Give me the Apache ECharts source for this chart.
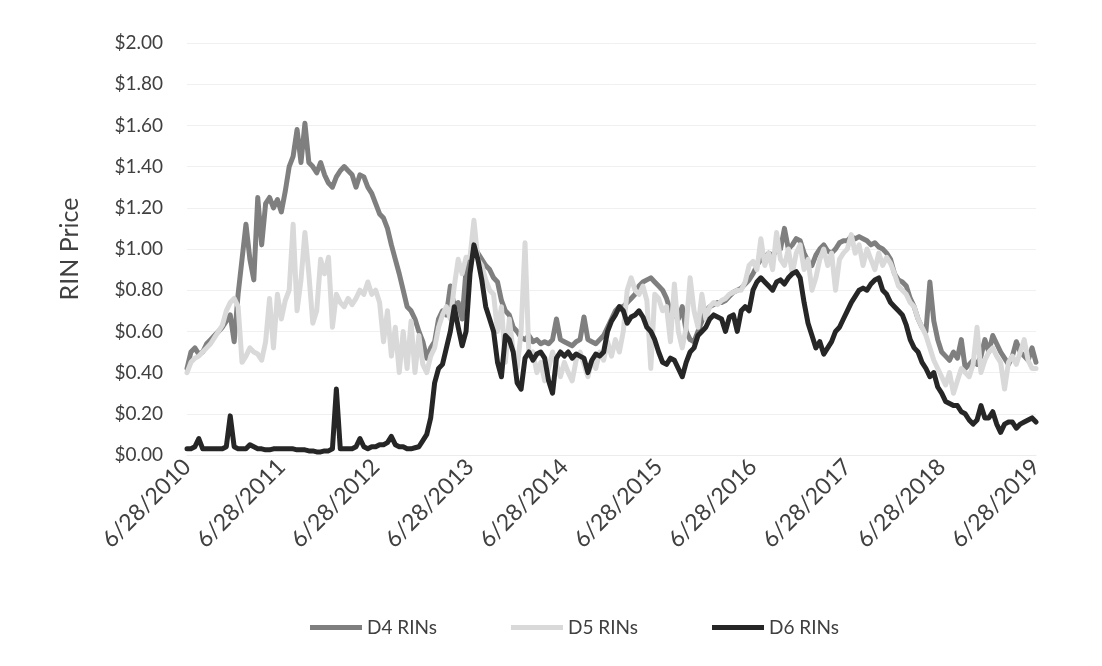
<!DOCTYPE html>
<html>
<head>
<meta charset="utf-8">
<title>RIN Price</title>
<script src="https://cdn.jsdelivr.net/npm/echarts@6/dist/echarts.min.js"></script>
<style>
html, body {
  margin: 0;
  padding: 0;
  background: #fff;
}
#chart {
  width: 1102px;
  height: 666px;
}
</style>
</head>
<body>
<div id="chart"></div>
<script>
// half-monthly readings, first point 6/28/2010, one row per year from 6/28
const d4 = [
  0.42, 0.50, 0.52, 0.49, 0.50, 0.54, 0.56, 0.58, 0.60, 0.62, 0.65, 0.68, 0.55, 0.78, 0.95, 1.12, 0.95, 0.85, 1.25, 1.02, 1.22, 1.25, 1.20, 1.24,
  1.18, 1.28, 1.40, 1.45, 1.58, 1.42, 1.61, 1.42, 1.40, 1.37, 1.42, 1.36, 1.32, 1.30, 1.35, 1.38, 1.40, 1.38, 1.36, 1.30, 1.36, 1.35, 1.30, 1.27,
  1.22, 1.17, 1.15, 1.10, 1.02, 0.95, 0.88, 0.80, 0.72, 0.70, 0.66, 0.60, 0.55, 0.47, 0.52, 0.55, 0.66, 0.70, 0.68, 0.82, 0.72, 0.74, 0.66, 0.90,
  0.95, 1.02, 0.98, 0.95, 0.92, 0.90, 0.86, 0.84, 0.75, 0.70, 0.68, 0.62, 0.60, 0.57, 0.56, 0.58, 0.55, 0.56, 0.54, 0.55, 0.54, 0.56, 0.66, 0.56,
  0.55, 0.54, 0.53, 0.55, 0.56, 0.67, 0.56, 0.55, 0.54, 0.56, 0.58, 0.62, 0.66, 0.70, 0.72, 0.72, 0.74, 0.76, 0.78, 0.82, 0.84, 0.85, 0.86, 0.84,
  0.82, 0.80, 0.76, 0.70, 0.68, 0.66, 0.72, 0.60, 0.56, 0.55, 0.60, 0.65, 0.70, 0.72, 0.73, 0.74, 0.74, 0.75, 0.77, 0.79, 0.80, 0.81, 0.83, 0.85,
  0.88, 0.92, 0.95, 0.96, 0.98, 0.97, 0.99, 1.00, 1.10, 1.00, 1.02, 1.05, 1.04, 0.98, 0.94, 0.92, 0.97, 1.00, 1.02, 0.99, 0.98, 1.00, 1.03, 1.04,
  1.04, 1.06, 1.05, 1.06, 1.05, 1.04, 1.02, 1.03, 1.01, 1.00, 0.98, 0.95, 0.88, 0.85, 0.84, 0.82, 0.76, 0.72, 0.66, 0.62, 0.60, 0.84, 0.65, 0.56,
  0.50, 0.48, 0.46, 0.50, 0.47, 0.56, 0.42, 0.44, 0.46, 0.44, 0.48, 0.56, 0.50, 0.58, 0.54, 0.50, 0.47, 0.44, 0.48, 0.55, 0.50, 0.48, 0.46, 0.52,
  0.45
]

const d5 = [
  0.40, 0.45, 0.47, 0.48, 0.50, 0.52, 0.54, 0.57, 0.60, 0.63, 0.70, 0.74, 0.76, 0.72, 0.45, 0.48, 0.52, 0.50, 0.49, 0.46, 0.55, 0.76, 0.52, 0.78,
  0.66, 0.75, 0.80, 1.12, 0.70, 0.85, 1.08, 0.88, 0.64, 0.70, 0.95, 0.88, 0.96, 0.62, 0.78, 0.74, 0.72, 0.76, 0.73, 0.76, 0.80, 0.78, 0.84, 0.78,
  0.80, 0.74, 0.55, 0.70, 0.48, 0.62, 0.40, 0.60, 0.42, 0.65, 0.40, 0.58, 0.44, 0.40, 0.48, 0.52, 0.62, 0.68, 0.72, 0.66, 0.82, 0.95, 0.88, 0.96,
  0.96, 1.14, 0.95, 0.92, 0.85, 0.80, 0.78, 0.60, 0.72, 0.45, 0.66, 0.50, 0.42, 0.60, 1.03, 0.48, 0.50, 0.40, 0.45, 0.36, 0.42, 0.50, 0.44, 0.38,
  0.45, 0.40, 0.36, 0.46, 0.50, 0.44, 0.38, 0.46, 0.42, 0.50, 0.46, 0.55, 0.48, 0.56, 0.50, 0.60, 0.80, 0.86, 0.80, 0.78, 0.82, 0.75, 0.42, 0.78,
  0.76, 0.70, 0.72, 0.55, 0.83, 0.60, 0.52, 0.62, 0.86, 0.70, 0.62, 0.78, 0.66, 0.72, 0.74, 0.73, 0.75, 0.76, 0.78, 0.79, 0.80, 0.80, 0.84, 0.92,
  0.94, 0.90, 1.05, 0.92, 0.98, 0.90, 1.08, 0.95, 0.92, 1.00, 0.88, 0.98, 1.02, 0.90, 0.95, 0.80, 0.86, 0.95, 1.00, 0.92, 0.98, 0.80, 0.95, 0.98,
  1.00, 1.07, 0.98, 1.02, 0.92, 1.00, 0.95, 0.90, 0.98, 0.92, 0.96, 0.93, 0.88, 0.82, 0.80, 0.78, 0.74, 0.72, 0.66, 0.62, 0.58, 0.52, 0.46, 0.42,
  0.38, 0.34, 0.40, 0.30, 0.36, 0.42, 0.40, 0.38, 0.44, 0.62, 0.40, 0.46, 0.50, 0.52, 0.48, 0.45, 0.32, 0.45, 0.48, 0.44, 0.50, 0.56, 0.46, 0.42,
  0.42
]

const d6 = [
  0.03, 0.03, 0.04, 0.08, 0.03, 0.03, 0.03, 0.03, 0.03, 0.03, 0.04, 0.19, 0.04, 0.03, 0.03, 0.03, 0.05, 0.04, 0.03, 0.03, 0.025, 0.025, 0.03, 0.03,
  0.03, 0.03, 0.03, 0.03, 0.025, 0.025, 0.025, 0.02, 0.02, 0.015, 0.015, 0.02, 0.02, 0.03, 0.32, 0.03, 0.03, 0.03, 0.03, 0.04, 0.08, 0.04, 0.03, 0.04,
  0.04, 0.05, 0.05, 0.06, 0.09, 0.05, 0.04, 0.04, 0.03, 0.03, 0.035, 0.04, 0.07, 0.10, 0.18, 0.35, 0.42, 0.44, 0.52, 0.60, 0.72, 0.62, 0.53, 0.60,
  0.88, 1.02, 0.95, 0.85, 0.72, 0.66, 0.60, 0.45, 0.38, 0.58, 0.56, 0.50, 0.35, 0.32, 0.47, 0.50, 0.46, 0.49, 0.50, 0.47, 0.36, 0.30, 0.47, 0.50,
  0.48, 0.50, 0.47, 0.49, 0.48, 0.47, 0.40, 0.46, 0.49, 0.48, 0.50, 0.60, 0.65, 0.68, 0.72, 0.70, 0.64, 0.67, 0.68, 0.70, 0.67, 0.62, 0.60, 0.56,
  0.50, 0.45, 0.44, 0.47, 0.46, 0.42, 0.38, 0.45, 0.50, 0.52, 0.58, 0.60, 0.62, 0.66, 0.68, 0.67, 0.66, 0.60, 0.67, 0.68, 0.60, 0.70, 0.72, 0.70,
  0.80, 0.84, 0.86, 0.84, 0.82, 0.80, 0.84, 0.85, 0.83, 0.86, 0.88, 0.89, 0.86, 0.74, 0.64, 0.58, 0.52, 0.55, 0.49, 0.52, 0.55, 0.60, 0.62, 0.66,
  0.70, 0.74, 0.77, 0.80, 0.81, 0.80, 0.83, 0.85, 0.86, 0.80, 0.78, 0.74, 0.72, 0.70, 0.68, 0.63, 0.56, 0.52, 0.50, 0.45, 0.42, 0.38, 0.40, 0.33,
  0.30, 0.26, 0.25, 0.24, 0.24, 0.21, 0.20, 0.17, 0.15, 0.17, 0.24, 0.18, 0.18, 0.21, 0.15, 0.11, 0.15, 0.16, 0.16, 0.13, 0.15, 0.16, 0.17, 0.18,
  0.16
]

const seriesNames = ['D4 RINs', 'D5 RINs', 'D6 RINs']
const seriesColors = ['#7f7f7f', '#d9d9d9', '#262626']

// dates on the 28th and the 13th, starting 6/28/2010
const dates = []
for (let i = 0; i < d4.length; i++) {
  const offset = Math.ceil(i / 2)
  const m = 5 + offset
  const day = i % 2 === 0 ? 28 : 13
  dates.push((m % 12 + 1) + '/' + day + '/' + (2010 + Math.floor(m / 12)))
}

const font = 'Lato, "Liberation Sans", sans-serif'
const textColor = '#404040'

const chart = echarts.init(document.getElementById('chart'))
chart.setOption({
  animation: false,
  backgroundColor: '#fff',
  grid: {
    left: 187,
    right: 66,
    top: 43,
    bottom: 211
  },
  legend: {
    bottom: 24,
    left: 305,
    icon: 'rect',
    itemWidth: 52,
    itemHeight: 5,
    itemGap: 74,
    textStyle: {
      fontSize: 19,
      fontFamily: font,
      color: textColor
    },
    data: seriesNames
  },
  xAxis: {
    type: 'category',
    data: dates,
    boundaryGap: false,
    axisLine: {
      lineStyle: { color: '#ececec' }
    },
    axisTick: { show: false },
    axisLabel: {
      interval: function (idx) {
        return idx % 24 === 0
      },
      rotate: 45,
      margin: 8,
      fontSize: 23,
      fontFamily: font,
      color: textColor
    }
  },
  yAxis: {
    type: 'value',
    min: 0,
    max: 2,
    interval: 0.2,
    name: 'RIN Price',
    nameLocation: 'middle',
    nameGap: 105,
    nameTextStyle: {
      fontSize: 25,
      fontFamily: font,
      color: textColor
    },
    axisLine: { show: false },
    axisTick: { show: false },
    splitLine: {
      lineStyle: { color: '#f0f0f0', width: 1 }
    },
    axisLabel: {
      margin: 24,
      fontSize: 19,
      fontFamily: font,
      color: textColor,
      formatter: function (v) {
        return '$' + v.toFixed(2)
      }
    }
  },
  series: [d4, d5, d6].map(function (values, k) {
    return {
      name: seriesNames[k],
      type: 'line',
      data: values,
      showSymbol: false,
      symbol: 'none',
      color: seriesColors[k],
      lineStyle: {
        color: seriesColors[k],
        width: 5,
        join: 'round',
        cap: 'round'
      }
    }
  })
})
</script>
</body>
</html>
